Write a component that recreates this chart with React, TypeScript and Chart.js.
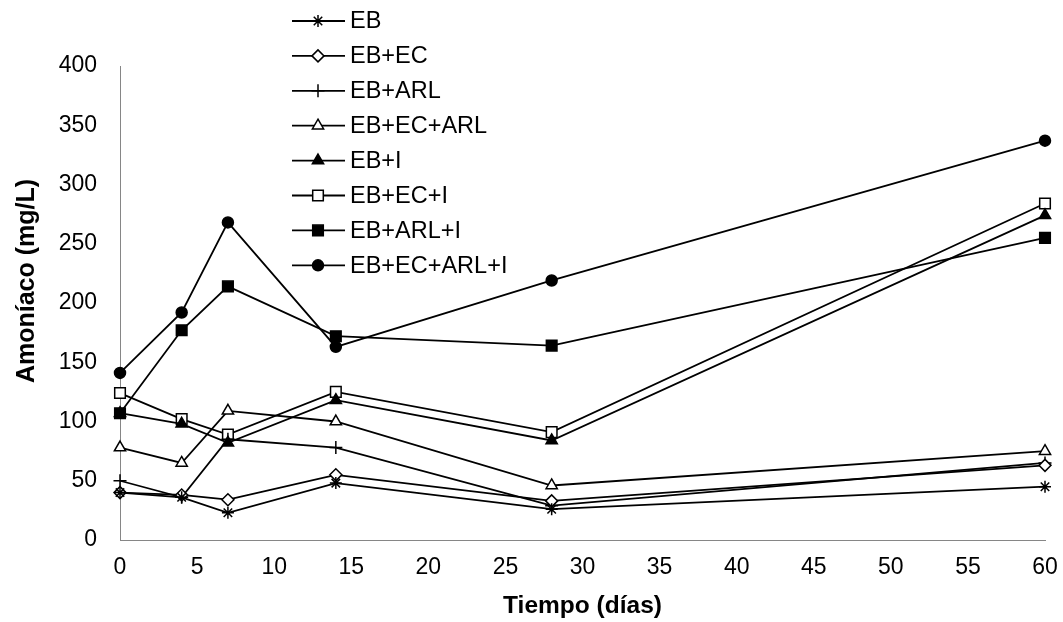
import React, { useEffect, useRef } from 'react';
import { Chart, registerables } from 'chart.js';
import { drawPoint } from 'chart.js/helpers';

Chart.register(...registerables);

// ---- data ----
const days = [0, 4, 7, 14, 28, 60];
const seriesNames = ['EB', 'EB+EC', 'EB+ARL', 'EB+EC+ARL', 'EB+I', 'EB+EC+I', 'EB+ARL+I', 'EB+EC+ARL+I'];
const eb = [40, 36, 23, 48, 26, 45];
const ebEc = [40, 38, 34, 55, 33, 63];
const ebArl = [50, 36, 85, 78, 29, 65];
const ebEcArl = [78, 65, 109, 100, 46, 75];
const ebI = [107, 98, 82, 118, 84, 274];
const ebEcI = [124, 102, 89, 125, 91, 284];
const ebArlI = [107, 177, 214, 172, 164, 255];
const ebEcArlI = [141, 192, 268, 163, 219, 337];
const seriesValues = [eb, ebEc, ebArl, ebEcArl, ebI, ebEcI, ebArlI, ebEcArlI];

const xTickStep = 5;
const yTickStep = 50;
const xTitle = 'Tiempo (días)';
const yTitle = 'Amoníaco (mg/L)';

// ---- styles ----
const markerStyles = [
  { pointStyle: 'star', radius: 6, fill: '#000' },
  { pointStyle: 'rectRot', radius: 6, fill: '#fff' },
  { pointStyle: 'cross', radius: 6.5, fill: '#000' },
  { pointStyle: 'triangle', radius: 6.5, fill: '#fff' },
  { pointStyle: 'triangle', radius: 6.5, fill: '#000' },
  { pointStyle: 'rect', radius: 7.5, fill: '#fff' },
  { pointStyle: 'rect', radius: 7.5, fill: '#000' },
  { pointStyle: 'circle', radius: 5.5, fill: '#000' },
];

const FONT = "'Liberation Sans', Arial, sans-serif";

const legendPlugin = {
  id: 'customLegend',
  afterDraw(chart: any) {
    const ctx = chart.ctx;
    ctx.save();
    chart.data.datasets.forEach((ds: any, i: number) => {
      const y = 21 + i * 34.9;
      ctx.strokeStyle = '#000';
      ctx.lineWidth = 1.8;
      ctx.beginPath();
      ctx.moveTo(292, y);
      ctx.lineTo(345, y);
      ctx.stroke();
      const m = markerStyles[i];
      ctx.fillStyle = m.fill;
      ctx.strokeStyle = '#000';
      ctx.lineWidth = 1.5;
      drawPoint(ctx, { pointStyle: m.pointStyle, radius: m.radius, rotation: 0, borderWidth: 1.5 } as any, 318, y);
      ctx.fillStyle = '#000';
      ctx.font = `23.5px ${FONT}`;
      ctx.textBaseline = 'middle';
      ctx.textAlign = 'left';
      ctx.fillText(ds.label, 350, y + 1);
    });
    // y-axis title
    ctx.translate(27, 281);
    ctx.rotate(-Math.PI / 2);
    ctx.font = `bold 25px ${FONT}`;
    ctx.textAlign = 'center';
    ctx.textBaseline = 'middle';
    ctx.fillStyle = '#000';
    ctx.fillText(yTitle, 0, 0);
    ctx.restore();
  },
};

export default function App() {
  const ref = useRef<HTMLCanvasElement>(null);
  useEffect(() => {
    if (!ref.current) return;
    const datasets = seriesNames.map((name, i) => ({
      label: name,
      data: days.map((d, j) => ({ x: d, y: seriesValues[i][j] })),
      borderColor: '#000',
      borderWidth: 1.8,
      pointStyle: markerStyles[i].pointStyle as any,
      pointRadius: markerStyles[i].radius,
      pointBackgroundColor: markerStyles[i].fill,
      pointBorderColor: '#000',
      pointBorderWidth: 1.5,
      tension: 0,
      fill: false,
      clip: false,
    }));
    const chart = new Chart(ref.current, {
      type: 'line',
      data: { datasets },
      plugins: [legendPlugin],
      options: {
        animation: false,
        responsive: false,
        maintainAspectRatio: false,
        layout: { padding: { top: 66, right: 18, bottom: 0, left: 0 } },
        plugins: { legend: { display: false }, tooltip: { enabled: false } },
        scales: {
          x: {
            type: 'linear',
            min: 0,
            max: 60,
            ticks: { stepSize: xTickStep, color: '#000', font: { family: FONT, size: 23 }, padding: 14, maxRotation: 0 },
            grid: { display: false, drawTicks: false },
            border: { display: true, color: '#868686', width: 1 },
            title: { display: true, text: xTitle, color: '#000', font: { family: FONT, size: 24.5, weight: 'bold' }, padding: { top: 0, bottom: 1 } },
            afterFit: (s: any) => { s.height = 82; s.paddingLeft = 0; s.paddingRight = 0; },
          },
          y: {
            type: 'linear',
            min: 0,
            max: 400,
            ticks: { stepSize: yTickStep, color: '#000', font: { family: FONT, size: 23 }, padding: 23 },
            grid: { display: false, drawTicks: false },
            border: { display: true, color: '#868686', width: 1 },
            title: { display: false },
            afterFit: (s: any) => { s.width = 120; s.paddingTop = 0; s.paddingBottom = 0; },
          },
        },
      } as any,
    });
    return () => chart.destroy();
  }, []);
  return (
    <div style={{ position: 'absolute', left: 0, top: 0, width: 1063, height: 622, background: '#fff' }}>
      <canvas ref={ref} width={1063} height={622} style={{ width: 1063, height: 622 }} />
    </div>
  );
}
